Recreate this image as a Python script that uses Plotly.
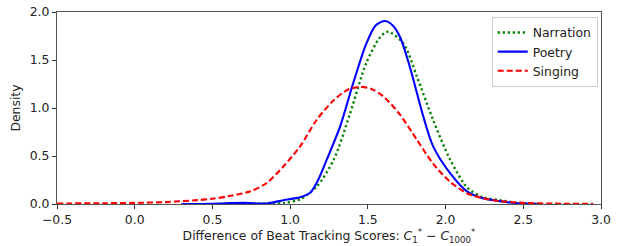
import plotly.graph_objects as go

# ---- data ----
singing_x = [-0.5, -0.2, 0.0, 0.2, 0.4, 0.5, 0.6, 0.74, 0.85, 0.956, 1.064, 1.17, 1.28, 1.37, 1.45,
             1.52, 1.60, 1.707, 1.815, 1.92, 2.03, 2.14, 2.24, 2.35, 2.5, 2.7, 2.95]
singing_y = [0.005, 0.008, 0.012, 0.02, 0.04, 0.055, 0.08, 0.13, 0.22, 0.39, 0.60, 0.875, 1.08, 1.19, 1.22,
             1.20, 1.12, 0.93, 0.67, 0.42, 0.23, 0.11, 0.06, 0.03, 0.012, 0.004, 0.001]

poetry_x = [0.3, 0.5, 0.7, 0.85, 0.956, 1.064, 1.13, 1.18, 1.235, 1.32, 1.406, 1.49, 1.55, 1.61, 1.66,
            1.707, 1.77, 1.857, 1.92, 2.03, 2.14, 2.24, 2.35, 2.45, 2.6]
poetry_y = [0.0, 0.003, 0.012, 0.005, 0.04, 0.07, 0.12, 0.25, 0.46, 0.80, 1.26, 1.67, 1.86, 1.906, 1.86,
            1.74, 1.43, 0.91, 0.60, 0.32, 0.13, 0.06, 0.03, 0.01, 0.0]

narration_x = [0.6, 0.8, 0.956, 1.064, 1.17, 1.28, 1.385, 1.49, 1.58, 1.63, 1.73, 1.815, 1.92, 2.03,
               2.14, 2.24, 2.35, 2.45, 2.6]
narration_y = [0.0, 0.002, 0.01, 0.05, 0.18, 0.46, 0.94, 1.47, 1.74, 1.795, 1.67, 1.33, 0.875, 0.46,
               0.17, 0.07, 0.04, 0.015, 0.0]

x_ticks = [-0.5, 0.0, 0.5, 1.0, 1.5, 2.0, 2.5, 3.0]
y_ticks = [0.0, 0.5, 1.0, 1.5, 2.0]

FONT = "DejaVu Sans"
FS = 12.4

fig = go.Figure()
fig.add_trace(go.Scatter(x=narration_x, y=narration_y, name="Narration", mode="lines",
                         line=dict(color="#008000", width=2.4, dash="2.2px,2.8px", shape="spline", smoothing=0.8)))
fig.add_trace(go.Scatter(x=poetry_x, y=poetry_y, name="Poetry", mode="lines",
                         line=dict(color="#0000ff", width=2.1, shape="spline", smoothing=0.8)))
fig.add_trace(go.Scatter(x=singing_x, y=singing_y, name="Singing", mode="lines",
                         line=dict(color="#ff0000", width=2.1, dash="6px,3px", shape="spline", smoothing=0.8)))

axis_common = dict(showgrid=False, zeroline=False, showline=True, mirror=True,
                   linecolor="#555555", linewidth=1.3, ticks="outside", ticklen=4,
                   tickcolor="#333333", tickfont=dict(family=FONT, size=FS, color="#222222"),
                   tickformat=".1f", automargin=False)

fig.update_xaxes(range=[-0.5, 3.0], tickvals=x_ticks,
                 title=dict(text="Difference of Beat Tracking Scores: <i>C</i><sub>1</sub><sup>*</sup> − <i>C</i><sub>1000</sub><sup>*</sup>",
                            font=dict(family=FONT, size=FS, color="#222222"), standoff=4),
                 **axis_common)
fig.update_yaxes(range=[0, 2.0], tickvals=y_ticks,
                 title=dict(text="Density", font=dict(family=FONT, size=FS, color="#222222"), standoff=6),
                 **axis_common)

fig.update_layout(
    width=628, height=246,
    margin=dict(l=57, r=27, t=12, b=42),
    plot_bgcolor="white", paper_bgcolor="white",
    font=dict(family=FONT, size=FS, color="#222222"),
    legend=dict(x=0.994, y=0.974, xanchor="right", yanchor="top",
                bgcolor="rgba(255,255,255,0.9)", bordercolor="#cccccc", borderwidth=1,
                font=dict(family=FONT, size=FS, color="#222222"),
                itemwidth=30, tracegroupgap=0),
)

fig.write_html("out.html", config={"displayModeBar": False},
               post_script="document.body.style.margin='0px';document.body.style.overflow='hidden';")
